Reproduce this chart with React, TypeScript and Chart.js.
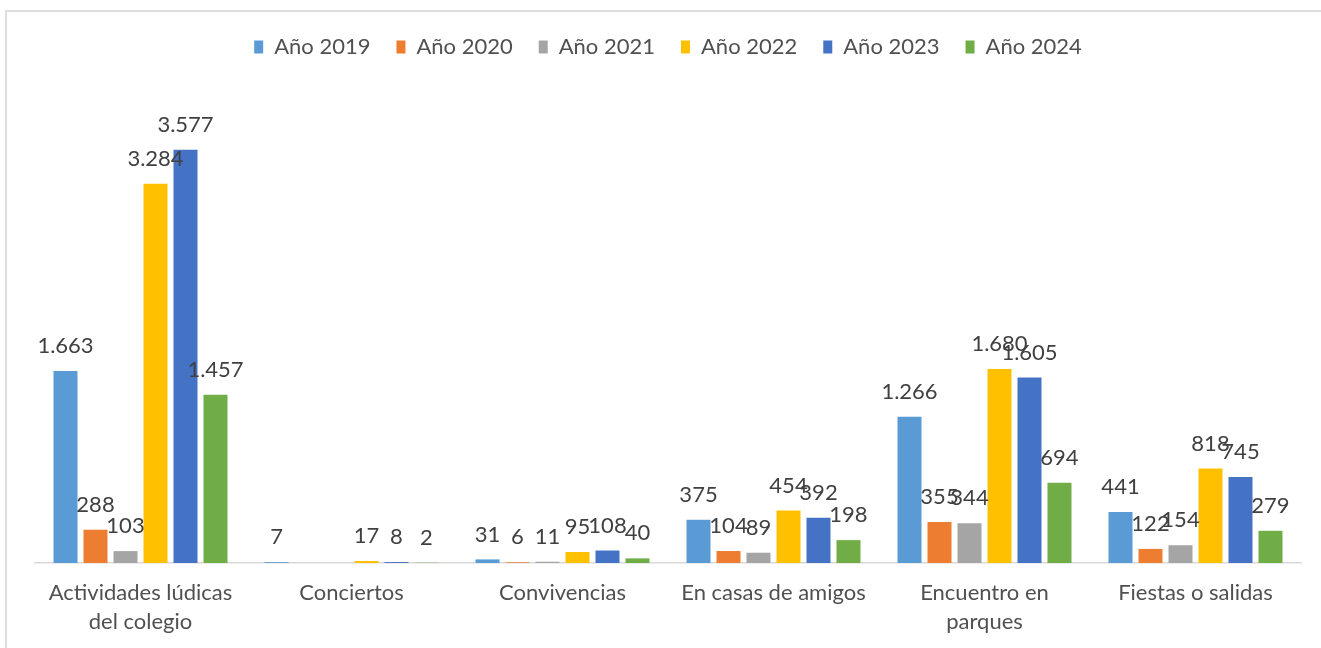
import React, { useEffect, useRef } from "react";
import { Chart, registerables } from "chart.js";

Chart.register(...registerables);

const categories: (string | string[])[] = [
  ["Actividades lúdicas", "del colegio"],
  "Conciertos",
  "Convivencias",
  "En casas de amigos",
  ["Encuentro en", "parques"],
  "Fiestas o salidas",
];

const seriesNames = ["Año 2019", "Año 2020", "Año 2021", "Año 2022", "Año 2023", "Año 2024"];
const seriesColors = ["#5B9BD5", "#ED7D31", "#A5A5A5", "#FFC000", "#4472C4", "#70AD47"];

const y2019 = [1663, 7, 31, 375, 1266, 441];
const y2020 = [288, null, 6, 104, 355, 122];
const y2021 = [103, null, 11, 89, 344, 154];
const y2022 = [3284, 17, 95, 454, 1680, 818];
const y2023 = [3577, 8, 108, 392, 1605, 745];
const y2024 = [1457, 2, 40, 198, 694, 279];

const seriesValues = [y2019, y2020, y2021, y2022, y2023, y2024];

const FONT = "Lato, 'Open Sans', sans-serif";

const fmt = (n: number) => String(n).replace(/\B(?=(\d{3})+(?!\d))/g, ".");

const legendHeightPlugin = {
  id: "legendHeight",
  beforeInit(chart: any) {
    const legend = chart.legend;
    if (!legend) return;
    const orig = legend.fit;
    legend.fit = function () {
      orig.call(this);
      this.height = 91;
    };
  },
};

const dataLabelsPlugin = {
  id: "dataLabels",
  afterDatasetsDraw(chart: any) {
    const ctx = chart.ctx;
    ctx.save();
    ctx.font = `22px ${FONT}`;
    ctx.fillStyle = "#404040";
    ctx.textAlign = "center";
    ctx.textBaseline = "middle";
    chart.data.datasets.forEach((ds: any, i: number) => {
      const meta = chart.getDatasetMeta(i);
      meta.data.forEach((el: any, j: number) => {
        const v = ds.data[j];
        if (v === null || v === undefined) return;
        ctx.fillText(fmt(v), el.x, el.y - 25);
      });
    });
    ctx.restore();
  },
};

export default function App() {
  const ref = useRef<HTMLCanvasElement>(null);

  useEffect(() => {
    if (!ref.current) return;
    const chart = new Chart(ref.current, {
      type: "bar",
      data: {
        labels: categories,
        datasets: seriesNames.map((name, i) => ({
          label: name,
          data: seriesValues[i],
          backgroundColor: seriesColors[i],
          borderWidth: 0,
          categoryPercentage: 0.853,
          barPercentage: 0.8,
        })),
      },
      options: {
        responsive: false,
        animation: false,
        layout: { padding: { top: 10, left: 35, right: 20, bottom: 0 } },
        plugins: {
          tooltip: { enabled: false },
          legend: {
            position: "top",
            labels: {
              boxWidth: 9,
              boxHeight: 13,
              padding: 26,
              color: "#505050",
              font: { family: FONT, size: 22 },
            },
          },
        },
        scales: {
          x: {
            offset: true,
            grid: { display: false, drawTicks: false },
            border: { display: true, color: "#d9d9d9", width: 1.5 },
            ticks: {
              color: "#505050",
              padding: 15.5,
              maxRotation: 0,
              autoSkip: false,
              font: { family: FONT, size: 22, lineHeight: "29px" as any },
            },
            afterFit(scale: any) {
              scale.height = 85;
            },
          },
          y: {
            display: false,
            min: 0,
            max: 4000,
          },
        },
      },
      plugins: [legendHeightPlugin, dataLabelsPlugin],
    } as any);
    return () => chart.destroy();
  }, []);

  return (
    <div style={{ position: "fixed", left: 0, top: 0, width: 1321, height: 648, background: "#fff", overflow: "hidden" }}>
      <div
        style={{
          position: "absolute",
          left: 5,
          top: 10,
          width: 1400,
          height: 700,
          border: "2px solid #dedede",
          boxSizing: "border-box",
        }}
      />
      <canvas ref={ref} width={1321} height={648} style={{ position: "absolute", left: 0, top: 0, width: 1321, height: 648 }} />
    </div>
  );
}
